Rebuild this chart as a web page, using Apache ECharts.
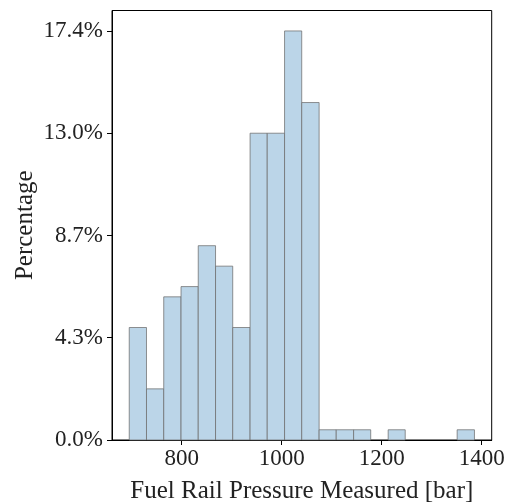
<!DOCTYPE html>
<html>
<head>
<meta charset="utf-8">
<script src="https://cdn.jsdelivr.net/npm/echarts@6/dist/echarts.min.js"></script>
<style>html,body{margin:0;padding:0;background:#fff}#c{width:508px;height:503px}</style>
</head>
<body>
<div id="c"></div>
<script>
// Histogram data (counts per bin), total samples = 230
const binEdges = [695, 729.5, 764, 798.6, 833, 867.6, 902, 936.7, 971, 1005.7, 1040, 1074.8, 1109, 1143.8, 1178, 1212.9, 1247, 1281.9, 1316, 1350.9, 1385.5];
const binCounts = [11, 5, 14, 15, 19, 17, 11, 30, 30, 40, 33, 1, 1, 1, 0, 1, 0, 0, 0, 1];
const totalCount = 230;
const xTicks = [800, 1000, 1200, 1400];
const yTickCounts = [0, 10, 20, 30, 40];

const pct = c => c / totalCount * 100;
const barData = binCounts.map((c, i) => [binEdges[i], binEdges[i + 1], pct(c)]);

const FONT = 'Liberation Serif';
const chart = echarts.init(document.getElementById('c'), null, {renderer: 'canvas'});
chart.setOption({
  animation: false,
  backgroundColor: '#fff',
  grid: {left: 112, top: 10.5, right: 16.3, bottom: 63, show: true, borderColor: '#000', borderWidth: 1,
    containLabel: false, outerBoundsMode: 'none'},
  xAxis: {
    type: 'value', min: 660.5, max: 1420,
    name: 'Fuel Rail Pressure Measured [bar]', nameLocation: 'middle', nameGap: 39,
    nameTextStyle: {fontFamily: FONT, fontSize: 25, color: '#222'},
    axisLine: {show: true, lineStyle: {color: '#000', width: 1}},
    axisTick: {show: true, inside: false, length: 5, lineStyle: {color: '#000'}, customValues: xTicks},
    axisLabel: {fontFamily: FONT, fontSize: 23, color: '#222', margin: 7, customValues: xTicks,
      formatter: v => String(v)},
    splitLine: {show: false}
  },
  yAxis: {
    type: 'value', min: 0, max: pct(42),
    name: 'Percentage', nameLocation: 'middle', nameGap: 74, nameRotate: 90, nameMoveOverlap: false,
    nameTextStyle: {fontFamily: FONT, fontSize: 25, color: '#222'},
    axisLine: {show: true, lineStyle: {color: '#000', width: 1}},
    axisTick: {show: true, length: 5, lineStyle: {color: '#000'}, customValues: yTickCounts.map(pct)},
    axisLabel: {fontFamily: FONT, fontSize: 23, color: '#222', margin: 9, customValues: yTickCounts.map(pct),
      formatter: v => v.toFixed(1) + '%'},
    splitLine: {show: false}
  },
  series: [{
    type: 'custom',
    data: barData,
    encode: {x: [0, 1], y: 2},
    renderItem: (params, api) => {
      if (api.value(2) <= 0) return null;
      const p0 = api.coord([api.value(0), 0]);
      const p1 = api.coord([api.value(1), api.value(2)]);
      return {
        type: 'rect',
        shape: {x: p0[0], y: p1[1], width: p1[0] - p0[0], height: p0[1] - p1[1]},
        style: {fill: '#bbd5e8', stroke: 'rgba(110,110,110,0.75)', lineWidth: 1}
      };
    }
  }]
});
</script>
</body>
</html>
